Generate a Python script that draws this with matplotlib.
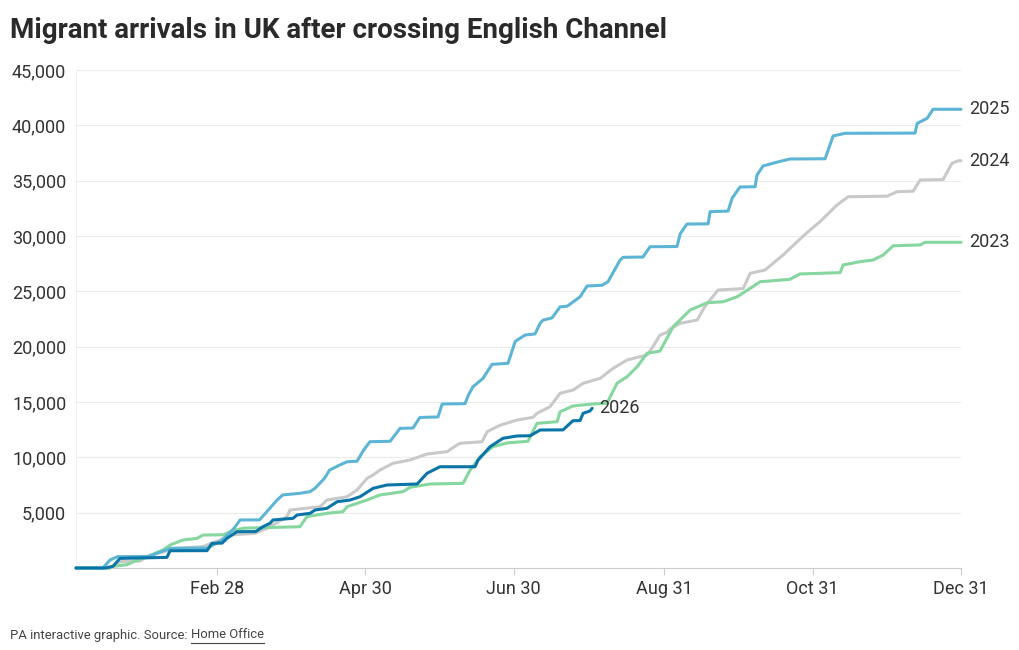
import matplotlib
matplotlib.use("Agg")
import matplotlib.pyplot as plt

# ---- data: (day of year, cumulative arrivals) ----
days_2023 = [1, 15, 16.2, 22, 25, 30, 36.8, 39.7, 45, 50.8, 53.2, 61.5, 66, 70, 93.1, 96, 104.2,
             110.8, 112.5, 120.7, 126, 135.5, 138.4, 146.6, 160.2, 163.1, 167.2, 172.5, 178.3,
             186.9, 190.6, 198.9, 200.1, 205.4, 213.7, 219.4, 223.5, 227.7, 231.8, 235.9, 241.2,
             246.6, 253.6, 260.6, 267.2, 272.9, 278.3, 282.4, 287.7, 294.7, 298.8, 315.3, 316.5,
             323.5, 328.8, 333, 337.1, 348.2, 350.2, 365]
vals_2023 = [0, 0, 150, 300, 600, 1000, 1630, 2080, 2530, 2680, 2980, 3000, 3400, 3600, 3730, 4640,
             4940, 5090, 5540, 6140, 6600, 6900, 7290, 7590, 7650, 8850, 10060, 10960, 11300,
             11450, 13070, 13220, 14120, 14640, 14820, 14880, 16690, 17290, 18190, 19400, 19600,
             21800, 23310, 23970, 24060, 24510, 25270, 25870, 25960, 26090, 26570, 26690, 27380,
             27680, 27830, 28280, 29120, 29190, 29430, 29430]

days_2024 = [1, 15, 19, 27.3, 30, 34.3, 42.5, 53.2, 60.2, 64.3, 74.5, 79.6, 87.8, 89, 101.4, 104.2,
             112.5, 116.6, 120.7, 123.2, 126, 131.4, 138.4, 145.4, 153.6, 157.7, 159, 168, 170.1,
             175.4, 182.4, 189, 190.6, 196, 200.1, 205.4, 209.6, 216.6, 221.9, 227.7, 235.9,
             238.3, 241.2, 244.1, 245.3, 249.5, 256.5, 259.8, 265.1, 275.4, 278.3, 284.4, 287.7,
             291.8, 297.6, 302.9, 307, 314, 318.6, 334.6, 338.7, 345.3, 348.2, 357.6, 361.3,
             363.8, 365]
vals_2024 = [0, 0, 570, 620, 1000, 1330, 1780, 1930, 2530, 2980, 3130, 3590, 4640, 5240, 5540, 6140,
             6440, 7050, 8100, 8400, 8850, 9460, 9760, 10300, 10510, 11110, 11270, 11410, 12320,
             12900, 13370, 13620, 13980, 14580, 15790, 16080, 16690, 17140, 18040, 18800, 19250,
             20000, 21050, 21300, 21600, 22110, 22410, 23670, 25120, 25250, 26630, 26930, 27530,
             28280, 29480, 30540, 31290, 32800, 33550, 33600, 34000, 34050, 35060, 35100, 36570,
             36800, 36800]

days_2025 = [1, 12, 15, 18, 31, 36, 40, 55, 61, 66, 68.5, 76.5, 83.7, 86, 93, 97.3, 99.3, 103.2,
             105.3, 109.5, 112.5, 116.6, 119.3, 121.9, 130.2, 134.3, 139.6, 142.4, 149.9, 151.6,
             161, 162.4, 164.3, 168.4, 172.1, 178.7, 181.6, 182.5, 185.7, 189.8, 191.9, 193.1,
             196.8, 200.1, 203, 208.3, 211.2, 217.4, 219.8, 224.8, 226, 234.2, 237.1, 248.2,
             249.5, 252.3, 261, 261.8, 269.2, 270.9, 274.1, 280.3, 281.1, 283.6, 289.8, 294.7,
             309.1, 312.4, 317.3, 346.1, 347, 351.1, 353.5, 365]
vals_2025 = [0, 0, 720, 1020, 1050, 1470, 1780, 1800, 2500, 3590, 4340, 4350, 6140, 6600, 6750,
             6900, 7200, 8100, 8850, 9310, 9600, 9650, 10660, 11410, 11450, 12620, 12650, 13600,
             13650, 14820, 14850, 15630, 16380, 17140, 18400, 18500, 20450, 20600, 21050, 21150,
             22110, 22400, 22600, 23600, 23650, 24500, 25480, 25550, 25870, 27830, 28070, 28100,
             29030, 29050, 30200, 31080, 31100, 32200, 32250, 33430, 34430, 34450, 35510, 36330,
             36700, 36960, 36980, 39040, 39280, 39300, 40180, 40640, 41450, 41450]

days_2026 = [1, 13, 16.2, 19.1, 38.4, 39.7, 54.9, 56.9, 61.1, 63.1, 67.2, 74.9, 77.9, 80.8, 82,
             90.3, 91.9, 97.3, 99.3, 104.2, 108.4, 113.7, 117.8, 123.2, 128.9, 141.3, 145.4,
             150.7, 165.1, 166.4, 171.3, 176.6, 182.4, 187.8, 191.9, 201.3, 205.4, 208.3, 209.6,
             212.4, 213.3]
vals_2026 = [0, 0, 150, 870, 960, 1560, 1570, 2230, 2250, 2680, 3280, 3290, 3730, 4040, 4340,
             4490, 4790, 4940, 5240, 5390, 5990, 6140, 6440, 7200, 7500, 7590, 8560, 9150, 9150,
             9760, 10960, 11720, 11930, 11950, 12470, 12480, 13310, 13320, 13980, 14190, 14430]

series_names = ["2024", "2023", "2025", "2026"]
series_days = [days_2024, days_2023, days_2025, days_2026]
series_vals = [vals_2024, vals_2023, vals_2025, vals_2026]
series_colors = ["#c9c9c9", "#86d69f", "#5db5d6", "#0b75a8"]

x_tick_days = [59, 120, 181, 243, 304, 365]
x_tick_labels = ["Feb 28", "Apr 30", "Jun 30", "Aug 31", "Oct 31", "Dec 31"]
y_ticks = [5000, 10000, 15000, 20000, 25000, 30000, 35000, 40000, 45000]
y_tick_labels = ["5,000", "10,000", "15,000", "20,000", "25,000", "30,000", "35,000", "40,000", "45,000"]

FONT = ["Roboto", "DejaVu Sans"]
plt.rcParams["font.family"] = FONT
TXT = "#333333"

fig = plt.figure(figsize=(10.2, 6.5), dpi=100)
ax = fig.add_axes([76 / 1020, 1 - 568 / 650, (961 - 76) / 1020, (568 - 70) / 650])

for name, d, v, c in zip(series_names, series_days, series_vals, series_colors):
    ax.plot(d, v, color=c, lw=2.2, solid_joinstyle="round", solid_capstyle="round",
            clip_on=False, zorder=3)
    off = (5, 0) if name == "2026" else (6, 0)
    ax.annotate(name, xy=(d[-1], v[-1]), xytext=off, textcoords="offset points",
                ha="left", va="center", fontsize=13, color=TXT, annotation_clip=False)

ax.set_xlim(1, 365)
ax.set_ylim(0, 45000)
ax.set_xticks(x_tick_days)
ax.set_xticklabels(x_tick_labels)
ax.set_yticks(y_ticks)
ax.set_yticklabels(y_tick_labels)
ax.tick_params(axis="x", length=5, width=0.8, color="#cccccc", pad=4, labelsize=13, labelcolor=TXT)
ax.tick_params(axis="y", length=0, pad=7, labelsize=13, labelcolor=TXT)
ax.grid(axis="y", color="#ebebeb", lw=0.8, zorder=0)
for s in ["top", "right"]:
    ax.spines[s].set_visible(False)
ax.spines["left"].set_color("#f0f0f0")
ax.spines["left"].set_linewidth(0.8)
ax.spines["bottom"].set_color("#cccccc")
ax.spines["bottom"].set_linewidth(0.8)

fig.text(10 / 1020, 1 - 30 / 650, "Migrant arrivals in UK after crossing English Channel",
         fontsize=20, fontweight="bold", color="#2a2a2a", ha="left", va="center")

t1 = fig.text(10 / 1020, 1 - 635 / 650, "PA interactive graphic. Source: ", fontsize=9.4,
              color="#444444", ha="left", va="center")
fig.canvas.draw()
r = fig.canvas.get_renderer()
bb = t1.get_window_extent(r)
x2 = bb.x1 / fig.bbox.width
t2 = fig.text(x2, 1 - 635 / 650, "Home Office", fontsize=9.4, color="#444444",
              ha="left", va="center")
bb2 = t2.get_window_extent(r)
fig.add_artist(plt.Line2D([bb2.x0 / fig.bbox.width, bb2.x1 / fig.bbox.width],
                          [(bb2.y0 - 1) / fig.bbox.height] * 2, color="#444444", lw=0.8))

fig.savefig("out.png", dpi=100)
